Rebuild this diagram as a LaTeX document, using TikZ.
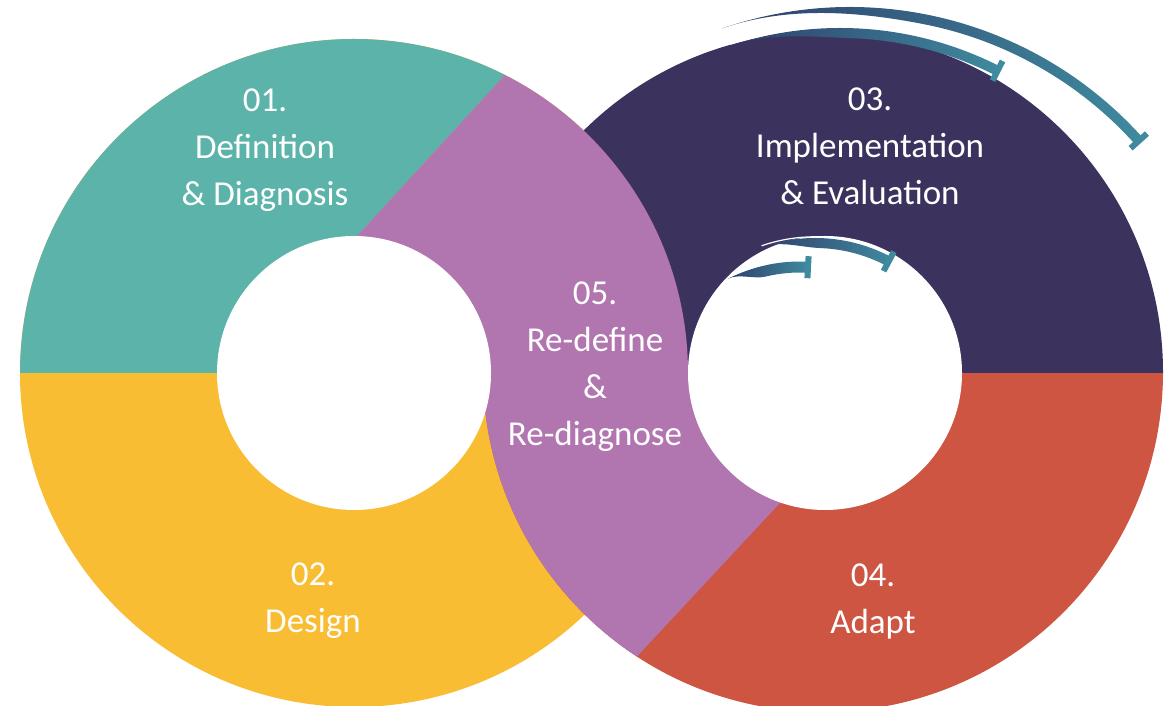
\documentclass[tikz,border=0pt]{standalone}
\usepackage{fontspec}
\setmainfont{Carlito}
\usetikzlibrary{calc}

\definecolor{defcol}{HTML}{5BB3AA}
\definecolor{descol}{HTML}{F9BD33}
\definecolor{impcol}{HTML}{3B335E}
\definecolor{adacol}{HTML}{CD5542}
\definecolor{redcol}{HTML}{B175B0}
\definecolor{swooshhead}{HTML}{3F8A9E}
\definecolor{swooshtail}{HTML}{2F3F6C}

\begin{document}
\begin{tikzpicture}[x=1pt, y=1pt]
  \newcommand\ringout{334pt}
  \newcommand\ringoutr{340pt}
  \newcommand\ringin{137pt}
  \newcommand\barhalf{11}

  \tikzset{lbl/.style={text=white, align=center, font=\fontsize{35}{47}\selectfont}}
  \tikzset{swoosh/.style={left color=swooshtail, right color=swooshhead}}
  \tikzset{swooshend/.style={draw=swooshhead, line width=6pt}}
  \tikzset{gleam/.style={draw=white, line width=1.2pt, line cap=round}}

  \useasboundingbox (0,0) rectangle (1170,706);
  \fill[white] (0,0) rectangle (1170,706);

  \coordinate (lc) at (354,333);
  \coordinate (rc) at (823,334);
  \coordinate (rh) at (825,333);
  % borders of 05
  \coordinate (t1) at (358,471);
  \coordinate (t2) at (503,629);
  \coordinate (r1) at (780,203);
  \coordinate (r2) at (643,56);

  % left ring, lower half
  \fill[descol] (lc) circle[radius=\ringout];

  % right ring
  \begin{scope}
    \clip (rc) circle[radius=\ringoutr];
    \fill[impcol] (300,333) rectangle (1180,720);
    \fill[adacol] (300,333) rectangle (1180,-20);
    \clip (300,333) rectangle (1180,-20);
    \fill[redcol] ($(r1)!-2!(r2)$) -- ($(r1)!3!(r2)$) -- (300,-238) -- (300,497) -- cycle;
  \end{scope}

  % left ring, upper half
  \begin{scope}
    \clip (lc) circle[radius=\ringout];
    \clip (-10,333) rectangle (1180,720);
    \fill[defcol] ($(t1)!-2!(t2)$) -- ($(t1)!3!(t2)$) -- (-10,945) -- (-10,155) -- cycle;
    \fill[redcol] ($(t1)!-2!(t2)$) -- ($(t1)!3!(t2)$) -- (1180,945) -- (1180,155) -- cycle;
  \end{scope}

  % holes
  \fill[white] (lc) circle[radius=\ringin];
  \fill[white] (rh) circle[radius=\ringin];

  % swooshes
  \foreach \cx/\cy/\rad/\sfrom/\sto/\swd in {850/306/388/109/41.9/10, 840/326/347/108/63/10, 800/286/153/117/87/11, 815/306/157/109/62/10}{
    \coordinate (sc) at (\cx,\cy);
    \pgfmathsetmacro\smid{\sto+0.55*(\sfrom-\sto)}
    \pgfmathsetmacro\ctl{(4/3)*tan((\sfrom-\smid)/4)*\rad}
    \shade[swoosh] ($(sc)+({\sfrom}:{(\rad+\swd/2)*1pt})$) coordinate (stail)
      arc[start angle=\sfrom, end angle=\sto, radius={(\rad+\swd/2)*1pt}]
      -- ($(sc)+({\sto}:{(\rad-\swd/2)*1pt})$)
      arc[start angle=\sto, end angle=\smid, radius={(\rad-\swd/2)*1pt}]
      .. controls +({\smid+90}:{\ctl*1pt}) and +({\sfrom-90}:{\ctl*1pt}) .. (stail) -- cycle;
    \draw[gleam] ($(sc)+({\sfrom}:{(\rad+\swd/2+1.2)*1pt})$)
      arc[start angle=\sfrom, end angle={\sfrom-0.5*(\sfrom-\sto)}, radius={(\rad+\swd/2+1.2)*1pt}];
    \draw[swooshend] ($(sc)+({\sto}:{(\rad-\barhalf)*1pt})$) -- ($(sc)+({\sto}:{(\rad+\barhalf)*1pt})$);
  }

  % labels
  \node[lbl] (def) at (265,556) {01.\\Definition\\\& Diagnosis};
  \node[lbl] (des) at (313,105) {02.\\Design};
  \node[lbl] (imp) at (870,560) {03.\\Implementation\\\& Evaluation};
  \node[lbl] (ada) at (873,105) {04.\\Adapt};
  \node[lbl] (rdf) at (595,339) {05.\\Re-define\\\&\\Re-diagnose};
\end{tikzpicture}
\end{document}
